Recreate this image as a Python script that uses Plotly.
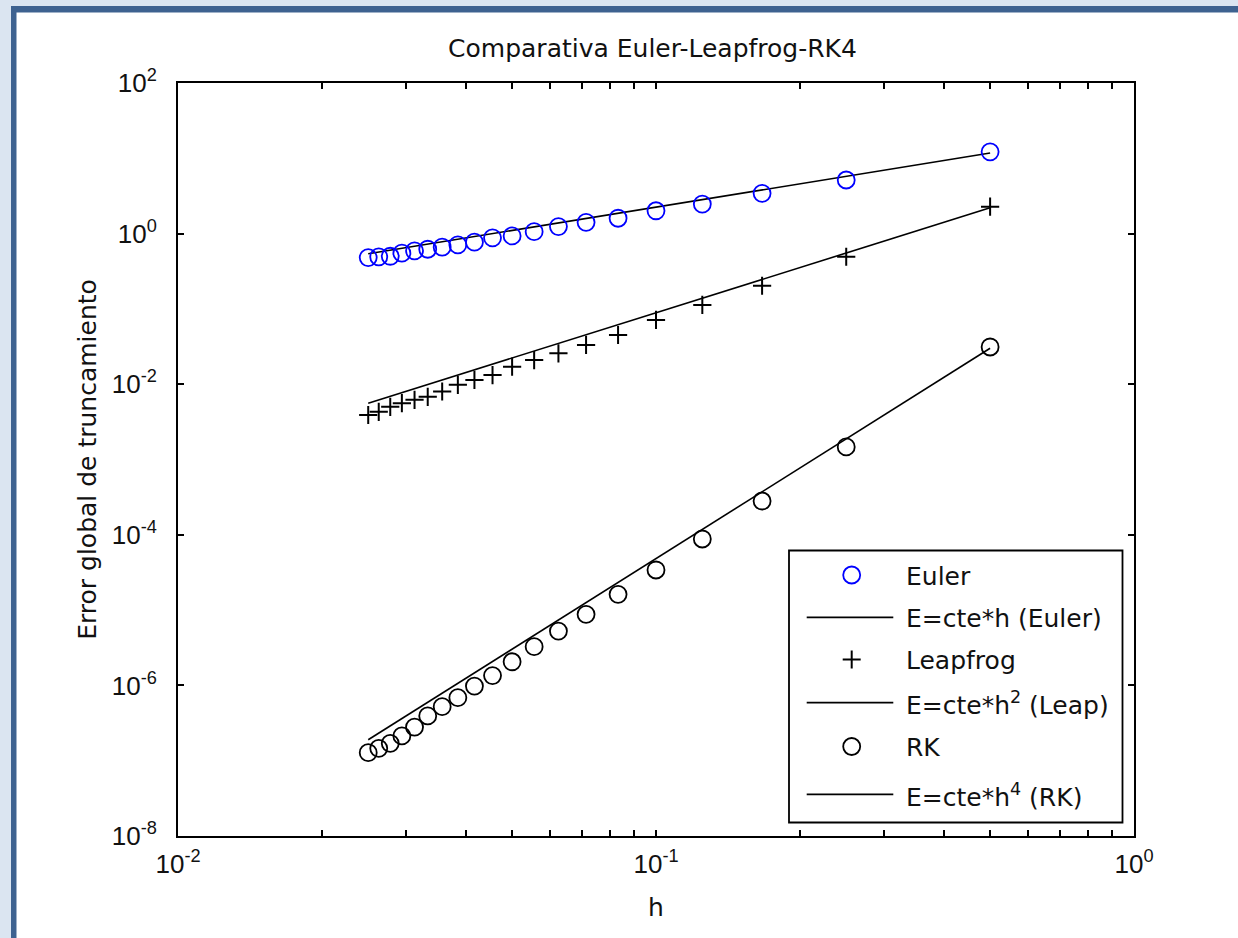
import plotly.graph_objects as go

# ---------------- data ----------------
h = [0.5, 0.25, 0.1667, 0.125, 0.1, 0.0833, 0.0714, 0.0625, 0.0556, 0.05,
     0.0455, 0.0417, 0.0385, 0.0357, 0.0333, 0.03125, 0.0294, 0.0278, 0.0263, 0.025]
euler = [12.2, 5.15, 3.43, 2.47, 2.01, 1.60, 1.41, 1.24, 1.06, 0.93,
         0.88, 0.77, 0.71, 0.66, 0.62, 0.59, 0.55, 0.50, 0.49, 0.48]
leapfrog = [2.28, 0.493, 0.203, 0.113, 0.0713, 0.045, 0.0332, 0.0257, 0.0209, 0.0171,
            0.0132, 0.0114, 0.0098, 0.0080, 0.0068, 0.0062, 0.0056, 0.0050, 0.0043, 0.0039]
rk = [0.0312, 1.47e-3, 2.81e-4, 8.8e-5, 3.41e-5, 1.62e-5, 8.8e-6, 5.27e-6, 3.27e-6, 2.06e-6,
      1.35e-6, 9.8e-7, 6.87e-7, 5.21e-7, 3.93e-7, 2.80e-7, 2.13e-7, 1.70e-7, 1.46e-7, 1.28e-7]

h_fit = [0.025, 0.5]
euler_fit = [0.54, 11.75]
leap_fit = [0.0056, 2.2]
rk_fit = [1.9e-7, 0.030]

x_tickvals = [0.01, 0.1, 1]
x_ticktext = ["10<sup>-2</sup>", "10<sup>-1</sup>", "10<sup>0</sup>"]
y_tickvals = [1e-8, 1e-6, 1e-4, 1e-2, 1e0, 1e2]
y_ticktext = ["10<sup>-8</sup>", "10<sup>-6</sup>", "10<sup>-4</sup>",
              "10<sup>-2</sup>", "10<sup>0</sup>", "10<sup>2</sup>"]

legend_labels = ["Euler", "E=cte*h (Euler)", "Leapfrog",
                 "E=cte*h<sup>2</sup> (Leap)", "RK", "E=cte*h<sup>4</sup> (RK)"]

title_text = "Comparativa Euler-Leapfrog-RK4"
xlabel = "h"
ylabel = "Error global de truncamiento"

# ---------------- layout geometry ----------------
W, H = 1238, 938
L, R, T, B = 178, 1134, 83, 836
PW, PH = R - L, B - T


def px(x):
    return (x - L) / PW


def py(y):
    return (B - y) / PH


TXT = "DejaVu Sans"
TICKF = "Liberation Sans"
INK = "#111111"

fig = go.Figure()

fig.add_trace(go.Scatter(x=h_fit, y=euler_fit, mode="lines",
                         line=dict(color="black", width=1.6), showlegend=False))
fig.add_trace(go.Scatter(x=h_fit, y=leap_fit, mode="lines",
                         line=dict(color="black", width=1.6), showlegend=False))
fig.add_trace(go.Scatter(x=h_fit, y=rk_fit, mode="lines",
                         line=dict(color="black", width=1.6), showlegend=False))

fig.add_trace(go.Scatter(x=h, y=euler, mode="markers",
                         marker=dict(symbol="circle-open", size=17,
                                     color="#0000ff", line=dict(width=1.8, color="#0000ff")),
                         showlegend=False))
fig.add_trace(go.Scatter(x=h, y=leapfrog, mode="markers",
                         marker=dict(symbol="cross-thin-open", size=13,
                                     color="black", line=dict(width=2, color="black")),
                         showlegend=False))
fig.add_trace(go.Scatter(x=h, y=rk, mode="markers",
                         marker=dict(symbol="circle-open", size=17,
                                     color="black", line=dict(width=1.8, color="black")),
                         showlegend=False))

shapes = []
# window frame
shapes.append(dict(type="rect", xref="paper", yref="paper", layer="below",
                   x0=px(11), x1=px(1260), y0=py(6), y1=py(960),
                   fillcolor="#3e6290", line=dict(width=0)))
shapes.append(dict(type="rect", xref="paper", yref="paper", layer="below",
                   x0=px(16.5), x1=px(1260), y0=py(12.5), y1=py(960),
                   fillcolor="white", line=dict(width=0)))

# legend box
shapes.append(dict(type="rect", xref="paper", yref="paper", layer="above",
                   x0=px(789), x1=px(1122.5), y0=py(822.5), y1=py(550.5),
                   fillcolor="white", line=dict(color="black", width=1.8)))

row_y = [575, 617.3, 659.5, 702.7, 746.5, 794.3]
mx = 851.7
r = 8.5
# Euler marker
shapes.append(dict(type="circle", xref="paper", yref="paper", layer="above",
                   x0=px(mx - r), x1=px(mx + r), y0=py(row_y[0] + r), y1=py(row_y[0] - r),
                   line=dict(color="#0000ff", width=1.8)))
# Leapfrog marker (+)
shapes.append(dict(type="line", xref="paper", yref="paper", layer="above",
                   x0=px(mx - 9), x1=px(mx + 9), y0=py(row_y[2]), y1=py(row_y[2]),
                   line=dict(color="black", width=2)))
shapes.append(dict(type="line", xref="paper", yref="paper", layer="above",
                   x0=px(mx), x1=px(mx), y0=py(row_y[2] - 9), y1=py(row_y[2] + 9),
                   line=dict(color="black", width=2)))
# RK marker
shapes.append(dict(type="circle", xref="paper", yref="paper", layer="above",
                   x0=px(mx - r), x1=px(mx + r), y0=py(row_y[4] + r), y1=py(row_y[4] - r),
                   line=dict(color="black", width=1.8)))
# line samples
for i in (1, 3, 5):
    shapes.append(dict(type="line", xref="paper", yref="paper", layer="above",
                       x0=px(806.7), x1=px(893.3), y0=py(row_y[i]), y1=py(row_y[i]),
                       line=dict(color="black", width=1.8)))

annotations = []
for lab, yy in zip(legend_labels, row_y):
    annotations.append(dict(text=lab, xref="paper", yref="paper",
                            x=px(904), y=py(yy + 1), xanchor="left", yanchor="middle",
                            showarrow=False, font=dict(family=TXT, size=25, color=INK)))

minor_x = [m * d for d in (0.01, 0.1) for m in range(2, 10)]

axis_common = dict(
    type="log", showgrid=False, zeroline=False,
    showline=True, linecolor="black", linewidth=1.8, mirror="ticks",
    ticks="inside", ticklen=6, tickwidth=1.5, tickcolor="black",
    tickfont=dict(family=TICKF, size=26, color=INK),
    tickmode="array",
)

fig.update_layout(
    width=W, height=H, autosize=False,
    margin=dict(l=L, r=W - R, t=T, b=H - B, pad=0),
    paper_bgcolor="#dbe5f1", plot_bgcolor="white",
    showlegend=False,
    title=dict(text=title_text, x=px(652.5), xref="paper", xanchor="center",
               y=1 - 48 / H, yref="container", yanchor="middle",
               font=dict(family=TXT, size=25, color=INK)),
    xaxis=dict(axis_common, range=[-2, 0], tickvals=x_tickvals, ticktext=x_ticktext,
               ticklabelstandoff=4,
               minor=dict(tickmode="array", tickvals=minor_x, ticks="inside", ticklen=6,
                          tickwidth=1.5, tickcolor="black", showgrid=False),
               title=dict(text=xlabel, standoff=20,
                          font=dict(family=TXT, size=25, color=INK))),
    yaxis=dict(axis_common, range=[-8, 2], tickvals=y_tickvals, ticktext=y_ticktext,
               ticklabelstandoff=14,
               title=dict(text=ylabel, standoff=8,
                          font=dict(family=TXT, size=25, color=INK))),
    shapes=shapes,
    annotations=annotations,
)

fig.write_html("out.html")
